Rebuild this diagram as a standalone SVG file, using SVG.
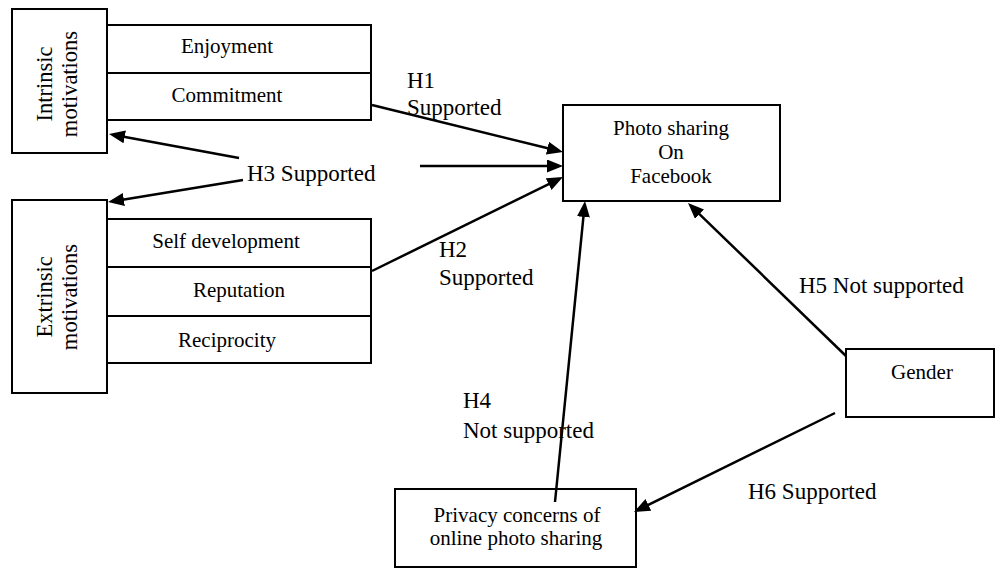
<svg xmlns="http://www.w3.org/2000/svg" width="996" height="570" viewBox="0 0 996 570">
<style>
.box{fill:#fff;stroke:#000;stroke-width:2}
.lbl{font-family:"Liberation Serif","Times New Roman",serif;font-size:21px;fill:#000;text-anchor:middle}
.vl{font-family:"Liberation Serif","Times New Roman",serif;font-size:22.5px;fill:#000;text-anchor:middle}
.h{font-family:"Liberation Serif","Times New Roman",serif;font-size:23px;fill:#000}
.c{stroke:#000;stroke-width:2.5;fill:none;marker-end:url(#ah)}
</style>
<defs>
<marker id="ah" markerUnits="userSpaceOnUse" markerWidth="17" markerHeight="14" refX="12" refY="6.5" orient="auto">
<path d="M0,0 L16,6.5 L0,13 z" fill="#000"/>
</marker>
</defs>
<rect width="996" height="570" fill="#fff"/>

<g id="intrinsic">
<rect class="box" x="12" y="9" width="95" height="144"/>
<text class="vl" transform="translate(52,84) rotate(-90)">Intrinsic</text>
<text class="vl" transform="translate(77,84) rotate(-90)">motivations</text>
</g>
<g id="enjoyment">
<rect class="box" x="107" y="25" width="264" height="48"/>
<text class="lbl" x="227" y="53">Enjoyment</text>
</g>
<g id="commitment">
<rect class="box" x="107" y="73" width="264" height="47"/>
<text class="lbl" x="227" y="102">Commitment</text>
</g>

<g id="extrinsic">
<rect class="box" x="12" y="200" width="95" height="193"/>
<text class="vl" transform="translate(52,297) rotate(-90)">Extrinsic</text>
<text class="vl" transform="translate(77,297) rotate(-90)">motivations</text>
</g>
<g id="selfdev">
<rect class="box" x="107" y="219" width="264" height="48"/>
<text class="lbl" x="226" y="248">Self development</text>
</g>
<g id="reputation">
<rect class="box" x="107" y="267" width="264" height="49"/>
<text class="lbl" x="239" y="297">Reputation</text>
</g>
<g id="reciprocity">
<rect class="box" x="107" y="316" width="264" height="47"/>
<text class="lbl" x="227" y="347">Reciprocity</text>
</g>

<g id="photo">
<rect class="box" x="563" y="105" width="217" height="96"/>
<text class="lbl" x="671" y="135">Photo sharing</text>
<text class="lbl" x="671" y="159">On</text>
<text class="lbl" x="671" y="183">Facebook</text>
</g>

<g id="gender">
<rect class="box" x="846" y="349" width="148" height="68"/>
<text class="lbl" x="922" y="379">Gender</text>
</g>

<g id="privacy">
<rect class="box" x="395" y="489" width="241" height="78"/>
<text class="lbl" x="517" y="522">Privacy concerns of</text>
<text class="lbl" x="516" y="545">online photo sharing</text>
</g>

<g id="connectors">
<line class="c" x1="372" y1="105" x2="559.1" y2="151.0"/>
<line class="c" x1="420" y1="166" x2="559" y2="166"/>
<line class="c" x1="372" y1="271" x2="559.4" y2="178.8"/>
<line class="c" x1="239" y1="158" x2="112.9" y2="134.7"/>
<line class="c" x1="243" y1="180" x2="112" y2="201.4"/>
<line class="c" x1="555" y1="502" x2="584.6" y2="205"/>
<line class="c" x1="846" y1="356" x2="690.9" y2="205.8"/>
<line class="c" x1="835" y1="413" x2="637.6" y2="510.2"/>
</g>

<g id="labels">
<text class="h" x="407" y="88">H1</text>
<text class="h" x="407" y="115">Supported</text>
<text class="h" x="439" y="257">H2</text>
<text class="h" x="439" y="285">Supported</text>
<text class="h" x="247" y="181">H3 Supported</text>
<text class="h" x="463" y="408">H4</text>
<text class="h" x="463" y="438">Not supported</text>
<text class="h" x="799" y="293">H5 Not supported</text>
<text class="h" x="748" y="499">H6 Supported</text>
</g>
</svg>
